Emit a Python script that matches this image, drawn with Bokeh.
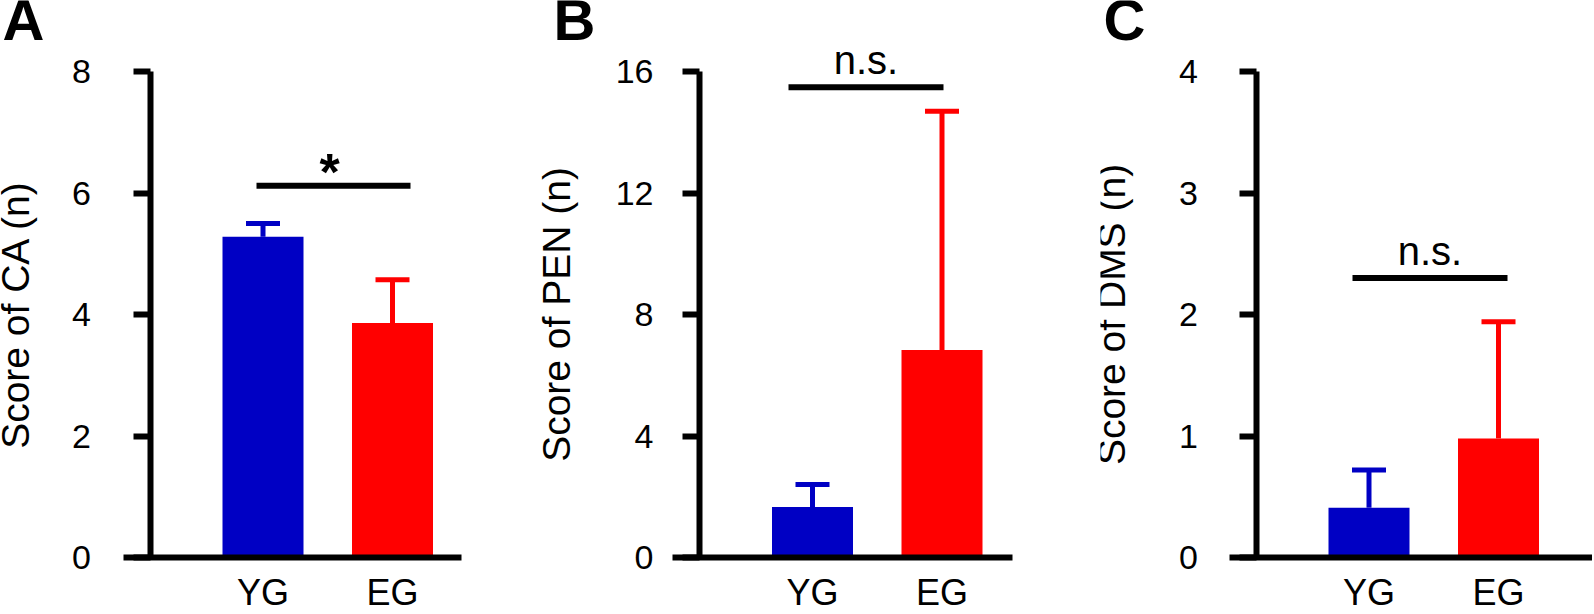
from bokeh.plotting import figure
from bokeh.layouts import row
from bokeh.models import Range1d, FixedTicker, Label
from bokeh.embed import file_html
from bokeh.resources import INLINE

# ---------------- data ----------------
categories = ["YG", "EG"]
ca_mean = [5.28, 3.86]
ca_sem = [0.22, 0.71]
pen_mean = [1.66, 6.83]
pen_sem = [0.74, 7.86]
dms_mean = [0.41, 0.98]
dms_sem = [0.31, 0.96]
ca_ticks = [0, 2, 4, 6, 8]
pen_ticks = [0, 4, 8, 12, 16]
dms_ticks = [0, 1, 2, 3, 4]
panel_letters = ["A", "B", "C"]
y_titles = ["Score of CA (n)", "Score of PEN (n)", "Score of DMS (n)"]
sig_texts = ["*", "n.s.", "n.s."]
sig_heights = [6.12, 15.48, 2.30]

# ---------------- style / layout (pixels) ----------------
FONT = "Liberation Sans"
COLORS = ["#0000C4", "#FF0000"]
PX = 129.5        # pixels per category step
H = 612           # figure height
Y0 = 557          # screen y of value 0
YT = 71           # screen y of top tick


def make_panel(letter, ytitle, means, sems, ticks, sig_text, sig_y, sig_span_px,
               left, width, ax, right, letter_px, tick_standoff, title_standoff,
               star_px=None):
    xs = [i + 1 for i in range(len(categories))]
    ymax = ticks[-1]
    ppu = (Y0 - YT) / ymax

    def sx(px):
        return 1 + (px - (ax + 113)) / PX

    def sy(py):
        return (Y0 - py) / ppu

    p = figure(width=width, height=H, min_border=0,
               min_border_left=0, min_border_right=0,
               min_border_top=0, min_border_bottom=0,
               x_range=Range1d(sx(left), sx(left + width)),
               y_range=Range1d(sy(H), sy(0)),
               output_backend="svg", toolbar_location=None,
               background_fill_color="white", border_fill_color="white")
    p.outline_line_color = None
    p.xgrid.visible = False
    p.ygrid.visible = False

    # bars
    p.vbar(x=xs, top=means, bottom=0, width=81 / PX, fill_color=COLORS,
           line_color=None)
    upper = [m + s for m, s in zip(means, sems)]
    # error bars (upper only)
    p.segment(x0=xs, y0=means, x1=xs, y1=upper, line_color=COLORS, line_width=5)
    half = 17 / PX
    p.segment(x0=[x - half for x in xs], y0=upper, x1=[x + half for x in xs],
              y1=upper, line_color=COLORS, line_width=5)

    # significance bar
    s0, s1 = sx(sig_span_px[0]), sx(sig_span_px[1])
    p.segment(x0=[s0], y0=[sig_y], x1=[s1], y1=[sig_y],
              line_color="black", line_width=6)
    if sig_text == "*":
        p.add_layout(Label(x=sx(star_px), y=sig_y, text=sig_text,
                           text_font=FONT, text_font_size="52px",
                           text_font_style="bold", text_align="center",
                           text_baseline="alphabetic", y_offset=14,
                           text_color="black"))
    else:
        p.add_layout(Label(x=(s0 + s1) / 2, y=sig_y,
                           text=sig_text, text_font=FONT, text_font_size="40px",
                           text_align="center", text_baseline="alphabetic",
                           y_offset=27, text_color="black"))

    # panel letter
    p.add_layout(Label(x=sx(letter_px), y=sy(19), text=letter, text_font=FONT,
                       text_font_size="58px", text_font_style="bold",
                       text_align="left", text_baseline="alphabetic",
                       text_color="black"))

    # y axis
    ya = p.yaxis[0]
    ya.fixed_location = sx(ax)
    ya.bounds = (0, ymax)
    ya.ticker = FixedTicker(ticks=ticks)
    ya.axis_line_width = 6
    ya.axis_line_color = "black"
    ya.major_tick_line_width = 6
    ya.major_tick_line_color = "black"
    ya.major_tick_out = 17
    ya.major_tick_in = 0
    ya.minor_tick_line_color = None
    ya.major_label_text_font = FONT
    ya.major_label_text_font_size = "34px"
    ya.major_label_text_color = "black"
    ya.major_label_standoff = tick_standoff
    ya.axis_label = ytitle
    ya.axis_label_text_font = FONT
    ya.axis_label_text_font_size = "39px"
    ya.axis_label_text_font_style = "normal"
    ya.axis_label_text_color = "black"
    ya.axis_label_standoff = title_standoff

    # x axis
    xa = p.xaxis[0]
    xa.fixed_location = 0
    xa.bounds = (sx(ax - 27), sx(right))
    xa.ticker = FixedTicker(ticks=xs)
    xa.major_label_overrides = {x: c for x, c in zip(xs, categories)}
    xa.axis_line_width = 6
    xa.axis_line_color = "black"
    xa.major_tick_out = 0
    xa.major_tick_in = 0
    xa.minor_tick_line_color = None
    xa.major_label_text_font = FONT
    xa.major_label_text_font_size = "36px"
    xa.major_label_text_color = "black"
    xa.major_label_standoff = 14
    return p


pa = make_panel(panel_letters[0], y_titles[0], ca_mean, ca_sem, ca_ticks,
                sig_texts[0], sig_heights[0], (256, 410),
                left=0, width=538, ax=149.5, right=461, letter_px=2,
                tick_standoff=42, title_standoff=33, star_px=329)
pb = make_panel(panel_letters[1], y_titles[1], pen_mean, pen_sem, pen_ticks,
                sig_texts[1], sig_heights[1], (788, 943),
                left=538, width=562, ax=699, right=1012, letter_px=553,
                tick_standoff=29, title_standoff=35)
pc = make_panel(panel_letters[2], y_titles[2], dms_mean, dms_sem, dms_ticks,
                sig_texts[2], sig_heights[2], (1352, 1507),
                left=1100, width=492, ax=1255.5, right=1592, letter_px=1103,
                tick_standoff=41, title_standoff=44)

layout = row(pa, pb, pc, spacing=0)
open("out.html", "w").write(file_html(layout, INLINE))
